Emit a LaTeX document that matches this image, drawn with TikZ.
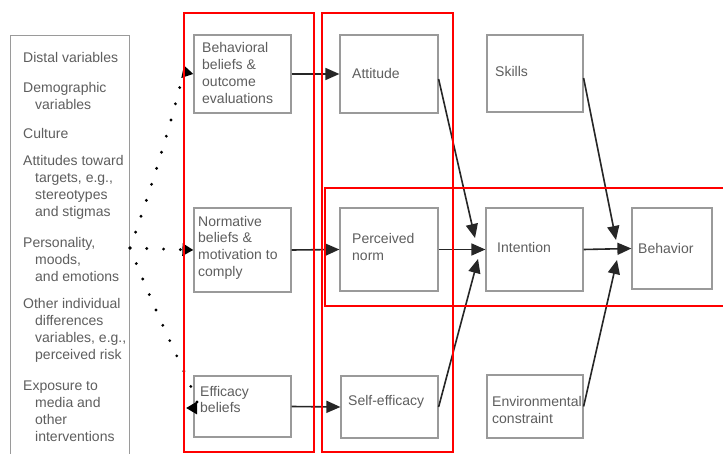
\documentclass[tikz,border=0pt]{standalone}
\usepackage{fontspec}
\setmainfont{Liberation Sans}
\usetikzlibrary{arrows.meta}
\definecolor{txtgray}{HTML}{5E5E5E}
\definecolor{boxgray}{HTML}{9A9A9A}
\definecolor{redline}{HTML}{FF0000}
\begin{document}
\begin{tikzpicture}[x=1pt,y=-1pt,
  bx/.style={draw=boxgray, line width=1.2pt, inner sep=0pt},
  lbl/.style={font=\fontsize{14}{16.7}\selectfont, text=txtgray, align=left, anchor=west, inner sep=0pt},
  lbll/.style={font=\fontsize{14}{17}\selectfont, text=txtgray, align=left, anchor=west, inner sep=0pt},
  arr/.style={draw=black!85, line width=1.6pt, -{Triangle[length=14pt,width=12pt]}},
  dotline/.style={draw=black, line width=3.2pt, line cap=round, dash pattern=on 0pt off 16.8pt, -{Triangle[length=11pt,width=12pt]}},
  redbox/.style={draw=redline, line width=1.8pt}]
\fill[white] (0,0) rectangle (723,454);
\useasboundingbox (0,0) rectangle (723,454);

% left box
\node[bx, anchor=north west, minimum width=119pt, minimum height=440pt] (distal) at (10,35) {};
\node[lbll] (l1) at (23,57) {Distal variables};
\node[lbll] (l2) at (23,95.5) {Demographic\\\hspace*{12pt}variables};
\node[lbll] (l3) at (23,133) {Culture};
\node[lbll] (l4) at (23,187.5) {Attitudes toward\\\hspace*{12pt}targets, e.g.,\\\hspace*{12pt}stereotypes\\\hspace*{12pt}and stigmas};
\node[lbll] (l5) at (23,259.5) {Personality,\\\hspace*{12pt}moods,\\\hspace*{12pt}and emotions};
\node[lbll] (l6) at (23,330.5) {Other individual\\\hspace*{12pt}differences\\\hspace*{12pt}variables, e.g.,\\\hspace*{12pt}perceived risk};
\node[lbll] (l7) at (23,411) {Exposure to\\\hspace*{12pt}media and\\\hspace*{12pt}other\\\hspace*{12pt}interventions};

% boxes
\node[bx, minimum width=97pt, minimum height=78pt] (beh) at (242.5,74) {};
\node[bx, minimum width=98pt, minimum height=78pt] (att) at (389,74) {};
\node[bx, minimum width=97pt, minimum height=84pt] (norm) at (242.5,250) {};
\node[bx, minimum width=98pt, minimum height=83pt] (pn) at (389,249.5) {};
\node[bx, minimum width=97pt, minimum height=61pt] (eff) at (242.5,406.5) {};
\node[bx, minimum width=97pt, minimum height=62pt] (se) at (389.5,407) {};
\node[bx, minimum width=96pt, minimum height=77pt] (sk) at (535,73.5) {};
\node[bx, minimum width=97pt, minimum height=83pt] (int) at (534.5,249.5) {};
\node[bx, minimum width=80pt, minimum height=81pt] (bhv) at (672,248.5) {};
\node[bx, minimum width=96pt, minimum height=63pt] (env) at (535,406.5) {};

% labels
\node[lbl] (tbeh) at (202,73) {Behavioral\\beliefs \&\\outcome\\evaluations};
\node[lbl] (tatt) at (352,73) {Attitude};
\node[lbl] (tnorm) at (198,247.5) {Normative\\beliefs \&\\motivation to\\comply};
\node[lbl] (tpn) at (352,247) {Perceived\\norm};
\node[lbl] (teff) at (200,399.5) {Efficacy\\beliefs};
\node[lbl] (tse) at (348,402) {Self-efficacy};
\node[lbl] (tsk) at (495,71) {Skills};
\node[lbl] (tint) at (497,247) {Intention};
\node[lbl] (tbhv) at (638,248) {Behavior};
\node[lbl] (tenv) at (492,410) {Environmental\\constraint};

% coordinates
\coordinate (o) at (130,248);
\coordinate (t1) at (475,238);
\coordinate (t2) at (478,259);
\coordinate (t3) at (616,240);
\coordinate (t4) at (617,260);
\coordinate (effin) at (186,408);

% dotted connectors
\draw[dotline] (o) .. controls (165,150) and (184,72) .. (beh.west);
\draw[dotline] (o) -- (norm.west);
\draw[dotline] (o) .. controls (175,360) and (205,408) .. (effin);

% solid arrows
\draw[arr] (beh.east) -- (att.west);
\draw[arr] (norm.east) -- (pn.west);
\draw[arr] (eff.east) -- (se.west);
\draw[arr] ([yshift=-5pt]att.east) -- (t1);
\draw[arr] (pn.east) -- (int.west);
\draw[arr] (se.east) -- (t2);
\draw[arr] ([yshift=-4.5pt]sk.east) -- (t3);
\draw[arr] (int.east) -- (bhv.west);
\draw[arr] (env.east) -- (t4);

% red frames
\draw[redbox] (184,13) rectangle (314,452);
\draw[redbox] (322,13) rectangle (453,452);
\draw[redbox] (325,188) rectangle (740,306);
\end{tikzpicture}
\end{document}
